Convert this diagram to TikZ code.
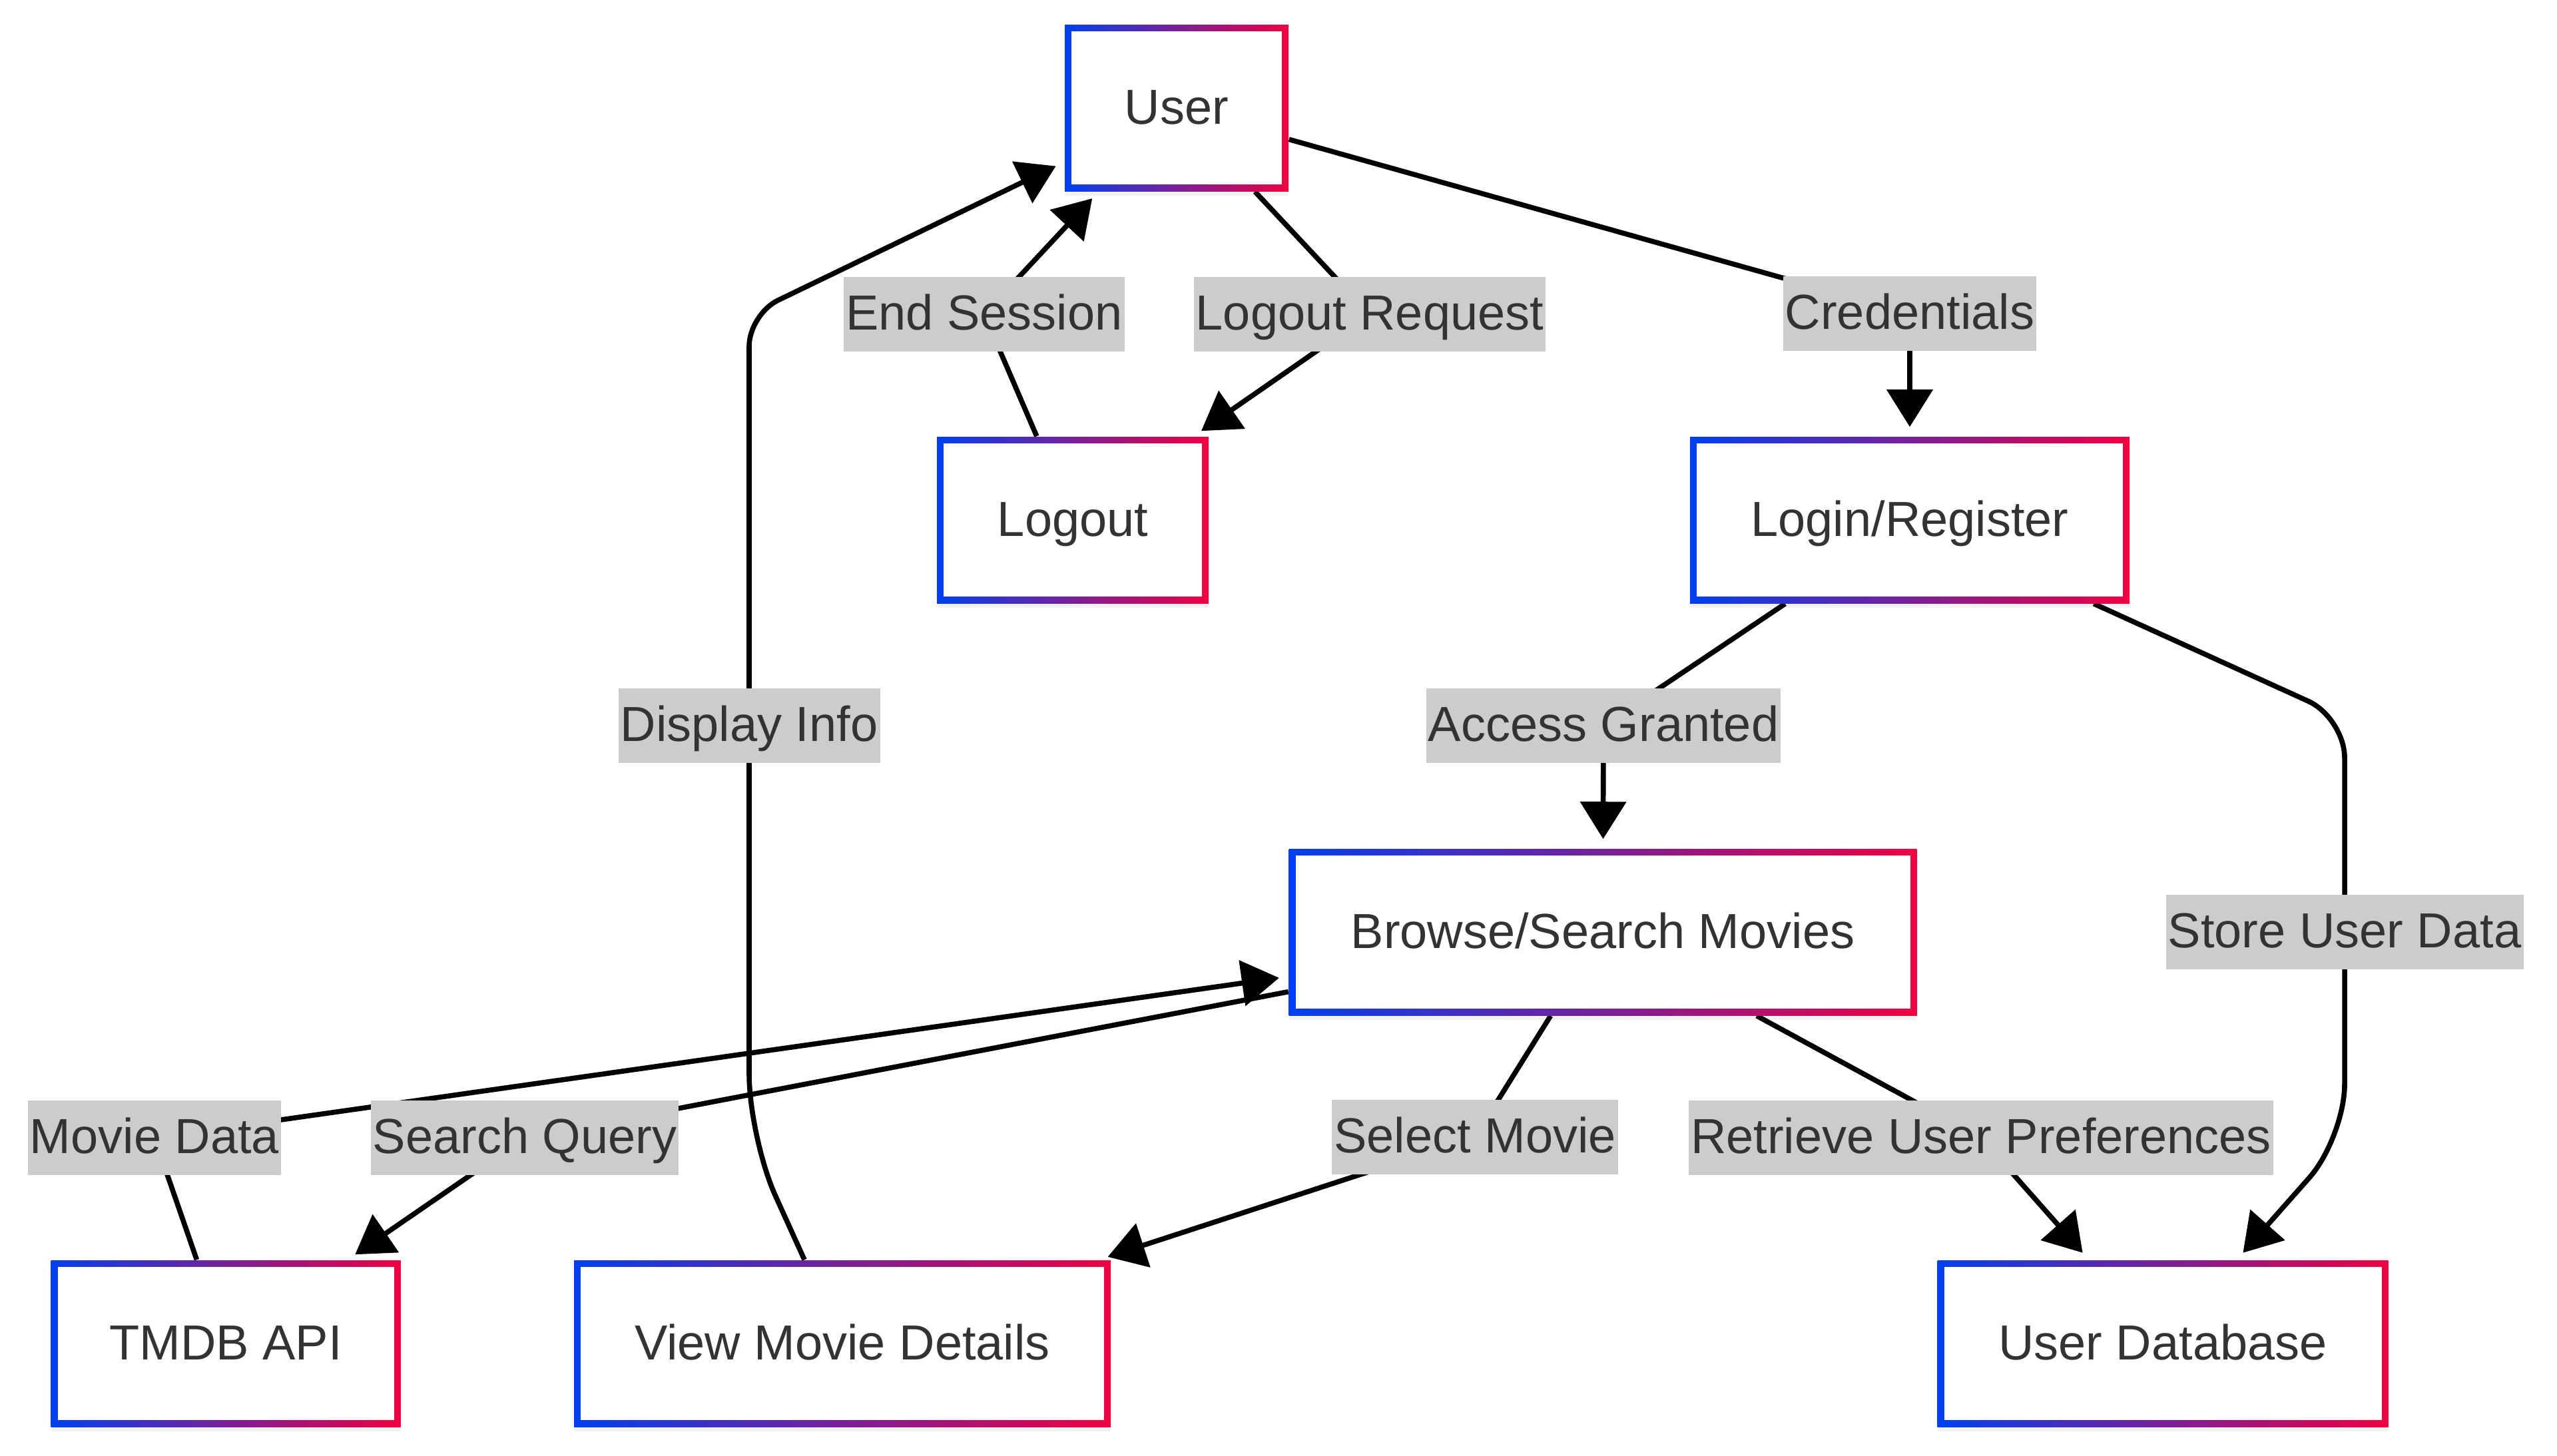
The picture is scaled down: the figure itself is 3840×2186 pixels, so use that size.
\documentclass[tikz,border=0pt]{standalone}
\usepackage{fontspec}
\setmainfont{Liberation Sans}
\usetikzlibrary{arrows.meta,shadows}
\definecolor{gblue}{RGB}{0,64,240}
\definecolor{gred}{RGB}{240,0,64}
\definecolor{lblfill}{RGB}{204,204,204}
\definecolor{txt}{RGB}{51,51,51}
\pgfdeclarelayer{bg}
\pgfdeclarelayer{edges}
\pgfsetlayers{bg,edges,main}
\begin{document}
\begin{tikzpicture}[x=0.25pt,y=-0.25pt,
  box/.style={rectangle, inner sep=0pt, text height=37.25pt, text depth=25.25pt,
    left color=gblue, right color=gred, text=txt,
    font=\fontsize{18.5pt}{22pt}\selectfont,
    drop shadow={opacity=0.10, shadow xshift=0pt, shadow yshift=-1.8pt},
    path picture={\fill[white]
      ([shift={(2.5pt,2.5pt)}]path picture bounding box.south west) rectangle
      ([shift={(-2.5pt,-2.5pt)}]path picture bounding box.north east);}},
  lbl/.style={rectangle, fill=lblfill, text=txt, inner xsep=0.8pt, inner ysep=0pt,
    text height=19.75pt, text depth=8.25pt, font=\fontsize{18.5pt}{22pt}\selectfont},
  edge/.style={draw=black, line width=1.9pt, line join=round,
    -{Triangle[length=14pt,width=17pt]}, shorten >=3.5pt}
]
\begin{pgfonlayer}{bg}
\fill[white] (0,0) rectangle (3840,2186);
\end{pgfonlayer}
\useasboundingbox (0,0) rectangle (3840,2186);

% boxes
\node[box, minimum width=84pt]     (user)   at (1767,162)  {User};
\node[box, minimum width=102pt]    (logout) at (1611,781)  {Logout};
\node[box, minimum width=165pt]    (login)  at (2868,781)  {Login/Register};
\node[box, minimum width=235.75pt] (browse) at (2407,1400) {Browse/Search Movies};
\node[box, minimum width=131.25pt] (tmdb)   at (339,2018)  {TMDB API};
\node[box, minimum width=201.5pt]  (view)   at (1265,2018) {View Movie Details};
\node[box, minimum width=169.25pt] (db)     at (3248,2018) {User Database};

% edge labels
\node[lbl] (endsess) at (1478,472)  {End Session};
\node[lbl] (lreq)    at (2057,472)  {Logout Request};
\node[lbl] (cred)    at (2868,471)  {Credentials};
\node[lbl] (disp)    at (1125,1090) {Display Info};
\node[lbl] (acc)     at (2408,1090) {Access Granted};
\node[lbl] (store)   at (3521,1400) {Store User Data};
\node[lbl] (mdata)   at (232,1709)  {Movie Data};
\node[lbl] (squery)  at (788,1709)  {Search Query};
\node[lbl] (selm)    at (2215,1708) {Select Movie};
\node[lbl] (retr)    at (2975,1709) {Retrieve User Preferences};

% bend points
\coordinate (s1) at (3521,1078);
\coordinate (s2) at (3521,1709);
\coordinate (d1) at (1125,1709);
\coordinate (d2) at (1125,472);

\begin{pgfonlayer}{edges}
\draw[edge] (user) -- (cred.center) -- (login);
\draw[edge] (user) -- (lreq.center) -- (logout);
\draw[edge] (logout) -- (endsess.center) -- (user);
\draw[edge] (login) -- (acc.center) -- (browse);
\draw[edge, rounded corners=15pt] (login) -- (s1) -- (store.center) [rounded corners=20pt] -- (s2) -- (db);
\draw[edge] (browse) -- (selm.center) -- (view);
\draw[edge] (browse) -- (retr.center) -- (db);
\draw[edge] (browse) -- (squery.center) -- (tmdb);
\draw[edge] (tmdb) -- (mdata.center) -- (browse);
\draw[edge, rounded corners=24pt] (view) -- (d1) -- (disp.center) [rounded corners=12pt] -- (d2) -- (user);
\end{pgfonlayer}
\end{tikzpicture}
\end{document}
